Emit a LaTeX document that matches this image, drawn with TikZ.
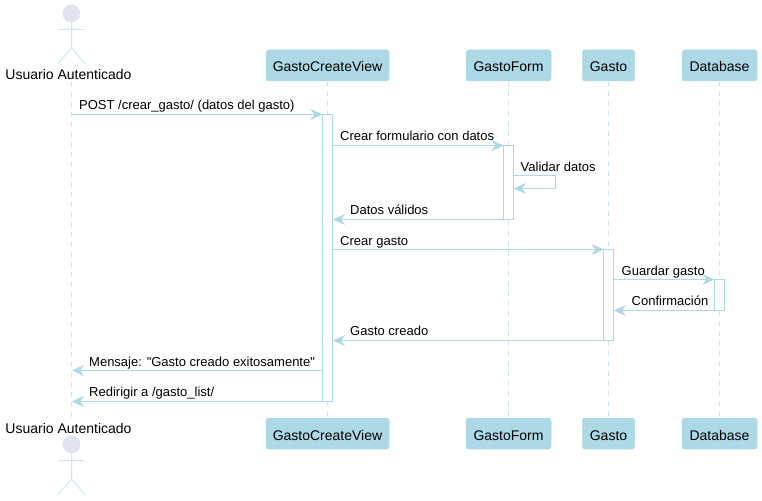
\documentclass[tikz,border=0pt]{standalone}
\usepackage{fontspec}
\newfontfamily\lsf{Liberation Sans}
\usetikzlibrary{arrows.meta}
\definecolor{lb}{HTML}{ADD8E6}
\definecolor{actorfill}{HTML}{E2E2F0}
\definecolor{lifec}{HTML}{CDE8F0}
\tikzset{
  part/.style={draw=lb,fill=lb,rounded corners=2.5pt,line width=.5pt,minimum height=31pt,outer sep=0pt,inner sep=0pt,text height=13pt,text depth=0pt,anchor=north west,font=\lsf\fontsize{14}{16}\selectfont,text=black},
  lifeline/.style={draw=lifec,line width=1pt,dash pattern=on 5pt off 5pt},
  act/.style={draw=lb,fill=white,line width=1pt,anchor=north west,outer sep=0pt,inner sep=0pt,minimum width=10pt},
  msg/.style={draw=lb,line width=1pt,-{Stealth[length=12pt,width=11pt,inset=4pt,fill=lb]}},
  lab/.style={anchor=base west,inner sep=0pt,font=\lsf\fontsize{13}{15}\selectfont,text=black},
  actorlab/.style={anchor=base,inner sep=0pt,font=\lsf\fontsize{14}{16}\selectfont,text=black},
  actorline/.style={draw=lifec,line width=1pt},
}
\begin{document}
\begin{tikzpicture}[x=1pt,y=-1pt]
\useasboundingbox (0,0) rectangle (762,500);
% actors
\node[circle,draw=lifec,fill=actorfill,line width=.5pt,minimum size=17pt,inner sep=0pt] (headt) at (71.5,13.5) {};
\node[circle,draw=lifec,fill=actorfill,line width=.5pt,minimum size=17pt,inner sep=0pt] (headb) at (71.5,444.5) {};
\coordinate (armtl) at (58.5,29.5); \coordinate (armtr) at (84.5,29.5);
\coordinate (hipt) at (71.5,48); \coordinate (legtl) at (58,63.5); \coordinate (legtr) at (85,63.5);
\coordinate (armbl) at (58.5,460.5); \coordinate (armbr) at (84.5,460.5);
\coordinate (hipb) at (71.5,479); \coordinate (legbl) at (58,494.5); \coordinate (legbr) at (85,494.5);
\draw[actorline] (headt) -- (hipt) (armtl) -- (armtr) (legtl) -- (hipt) -- (legtr);
\draw[actorline] (headb) -- (hipb) (armbl) -- (armbr) (legbl) -- (hipb) -- (legbr);
\node[actorlab] (ut) at (68.5,80) {Usuario Autenticado};
\node[actorlab] (ub) at (68.5,433) {Usuario Autenticado};
% participants
\node[part,minimum width=123pt] (vt) at (266,50) {GastoCreateView};
\node[part,minimum width=85pt] (ft) at (466,50) {GastoForm};
\node[part,minimum width=52pt] (gt) at (582.5,50) {Gasto};
\node[part,minimum width=75pt] (dt) at (682,50) {Database};
\node[part,minimum width=123pt] (vb) at (266,418) {GastoCreateView};
\node[part,minimum width=85pt] (fb) at (466,418) {GastoForm};
\node[part,minimum width=52pt] (gb) at (582.5,418) {Gasto};
\node[part,minimum width=75pt] (db) at (682,418) {Database};
% lifelines
\coordinate (ua) at (71.5,82); \coordinate (uz) at (71.5,418);
\draw[lifeline] (ua) -- (uz);
\draw[lifeline] (vt.south) -- (vb.north);
\draw[lifeline] (ft.south) -- (fb.north);
\draw[lifeline] (gt.south) -- (gb.north);
\draw[lifeline] (dt.south) -- (db.north);
% activations
\node[act,minimum height=287pt] (av) at (322.5,114.5) {};
\node[act,minimum height=74pt] (af) at (503.5,145.5) {};
\node[act,minimum height=91pt] (ag) at (603.5,249.5) {};
\node[act,minimum height=31pt] (ad) at (714.5,279.5) {};
% messages
\coordinate (m1) at (71.5,114.5);
\draw[msg] (m1) -- (av.north west);
\node[lab] (l1) at (79,110) {POST /crear\_gasto/ (datos del gasto)};
\coordinate (m2) at (332.5,145.5);
\draw[msg] (m2) -- (af.north west);
\node[lab] (l2) at (340,140) {Crear formulario con datos};
\coordinate (s1) at (513.5,175.5); \coordinate (s2) at (555.5,175.5); \coordinate (s3) at (555.5,188.5); \coordinate (s4) at (514,188.5);
\draw[msg] (s1) -- (s2) -- (s3) -- (s4);
\node[lab] (l3) at (520.5,171) {Validar datos};
\coordinate (m3) at (503.5,219.5); \coordinate (m3e) at (333,219.5);
\draw[msg] (m3) -- (m3e);
\node[lab] (l4) at (350,214.5) {Datos válidos};
\coordinate (m4) at (332.5,249.5);
\draw[msg] (m4) -- (ag.north west);
\node[lab] (l5) at (340,245) {Crear gasto};
\coordinate (m5) at (613.5,279.5);
\draw[msg] (m5) -- (ad.north west);
\node[lab] (l6) at (621.5,275) {Guardar gasto};
\coordinate (m6) at (714.5,310.5); \coordinate (m6e) at (614,310.5);
\draw[msg] (m6) -- (m6e);
\node[lab] (l7) at (631.5,305) {Confirmación};
\coordinate (m7) at (603.5,340.5); \coordinate (m7e) at (333,340.5);
\draw[msg] (m7) -- (m7e);
\node[lab] (l8) at (350,335.5) {Gasto creado};
\coordinate (m8) at (322.5,370.5); \coordinate (m8e) at (72,370.5);
\draw[msg] (m8) -- (m8e);
\node[lab] (l9) at (89,366) {Mensaje: "Gasto creado exitosamente"};
\coordinate (m9) at (322.5,401.5); \coordinate (m9e) at (72,401.5);
\draw[msg] (m9) -- (m9e);
\node[lab] (l10) at (89,396) {Redirigir a /gasto\_list/};
\end{tikzpicture}
\end{document}
